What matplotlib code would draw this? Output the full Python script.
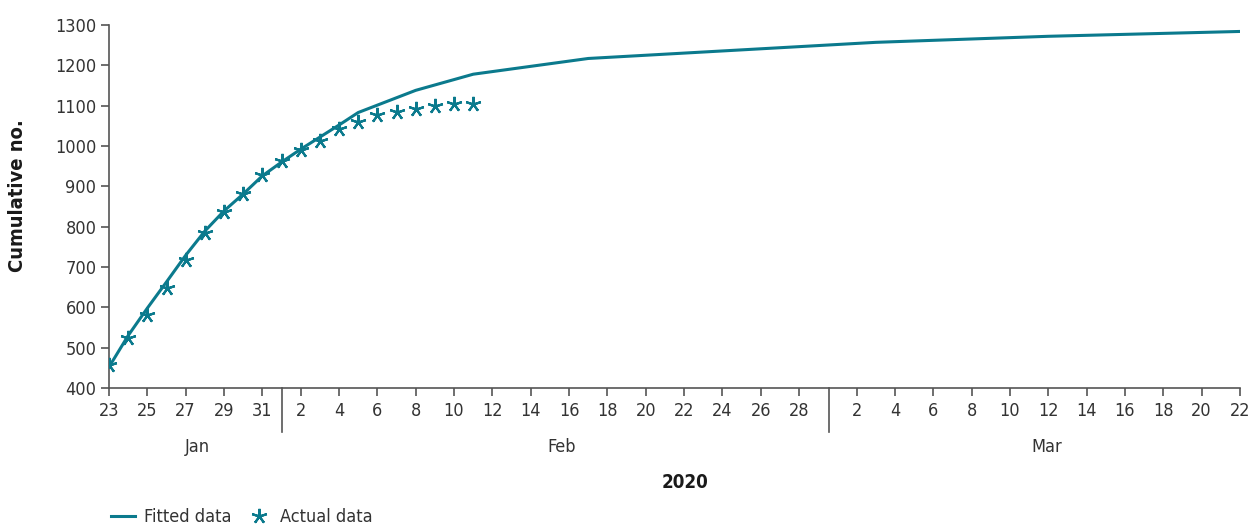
import numpy as np
import matplotlib
matplotlib.use('Agg')
import matplotlib.pyplot as plt
from matplotlib.lines import Line2D

plt.rcParams['font.family'] = ['DejaVu Sans']
plt.rcParams['font.stretch'] = 'condensed'

start = np.datetime64('2020-01-23')

# actual observations (daily, Jan 23 - Feb 11)
actual_dates = np.arange(np.datetime64('2020-01-23'), np.datetime64('2020-02-12'))
actual_vals = [457, 524, 580, 648, 717, 785, 836, 880, 928, 963,
               989, 1012, 1043, 1060, 1076, 1085, 1091, 1099, 1103, 1103]

# fitted curve
fit_dates = np.array(['2020-01-23', '2020-01-24', '2020-01-25', '2020-01-26', '2020-01-27',
                      '2020-01-28', '2020-01-29', '2020-01-30', '2020-01-31', '2020-02-01',
                      '2020-02-02', '2020-02-03', '2020-02-04', '2020-02-05', '2020-02-08',
                      '2020-02-11', '2020-02-17', '2020-03-03', '2020-03-12', '2020-03-22'],
                     dtype='datetime64[D]')
fit_vals = [452, 530, 598, 663, 729, 789, 839, 881, 926, 960,
            992, 1022, 1052, 1083, 1138, 1178, 1217, 1257, 1272, 1284]

months = ['Jan', 'Feb', 'Mar']
month_label_days = [4.6, 23.6, 48.9]
separator_days = [9.05, 37.55]

color = '#0b7a8d'
txt = '#333333'
axc = '#555555'

def day(d):
    return (np.asarray(d, dtype='datetime64[D]') - start).astype(int)

fig = plt.figure(figsize=(12.55, 5.25), dpi=100)
ax = fig.add_axes([109/1255, 1 - 388/525, (1240-109)/1255, (388-25)/525])

ax.plot(day(fit_dates), fit_vals, color=color, lw=2.2, zorder=3)
ax.plot(day(actual_dates), actual_vals, ls='none', marker=(5, 2, 0), ms=11,
        mew=1.6, color=color, zorder=4)

ax.set_xlim(0, day('2020-03-22'))
ax.set_ylim(400, 1300)
ax.set_yticks(np.arange(400, 1301, 100))

# tick days: odd in Jan, even in Feb and Mar
tick_dates = np.arange(np.datetime64('2020-01-23'), np.datetime64('2020-03-23'))
ticks, labels = [], []
for d in tick_dates:
    dd = d.astype(object)
    if (dd.month == 1 and dd.day % 2 == 1) or (dd.month > 1 and dd.day % 2 == 0):
        ticks.append(day(d))
        labels.append(str(dd.day))
ax.set_xticks(ticks)
ax.set_xticklabels(labels)

for s in ['top', 'right']:
    ax.spines[s].set_visible(False)
for s in ['left', 'bottom']:
    ax.spines[s].set_color(axc)
    ax.spines[s].set_linewidth(1.2)
ax.tick_params(axis='both', colors=axc, labelcolor=txt, labelsize=13, length=6, width=1.2)
ax.tick_params(axis='x', pad=4)
ax.tick_params(axis='y', pad=3)

# month separators and labels
for sd in separator_days:
    ax.plot([sd, sd], [0, -0.12], transform=ax.get_xaxis_transform(), color=axc,
            lw=1.2, clip_on=False)
for m, md in zip(months, month_label_days):
    ax.text(md, -0.163, m, transform=ax.get_xaxis_transform(), ha='center', va='center',
            fontsize=13, color=txt)

fig.text(685/1255, 1 - 482/525, '2020', ha='center', va='center', fontsize=13.5,
         fontweight='bold', color='#1a1a1a')
fig.text(18/1255, 1 - 196/525, 'Cumulative no.', rotation=90, ha='center', va='center',
         fontsize=14.5, fontweight='bold', color='#1a1a1a')

handles = [Line2D([], [], color=color, lw=2.2),
           Line2D([], [], ls='none', marker=(5, 2, 0), ms=11, mew=1.6, color=color)]
fig.legend(handles, ['Fitted data', 'Actual data'], loc='center left',
           bbox_to_anchor=(95/1255, 1 - 517/525), ncol=2, frameon=False, fontsize=13,
           handlelength=1.3, handletextpad=0.5, columnspacing=0.9, labelcolor=txt)

fig.savefig('out.png', dpi=100)
